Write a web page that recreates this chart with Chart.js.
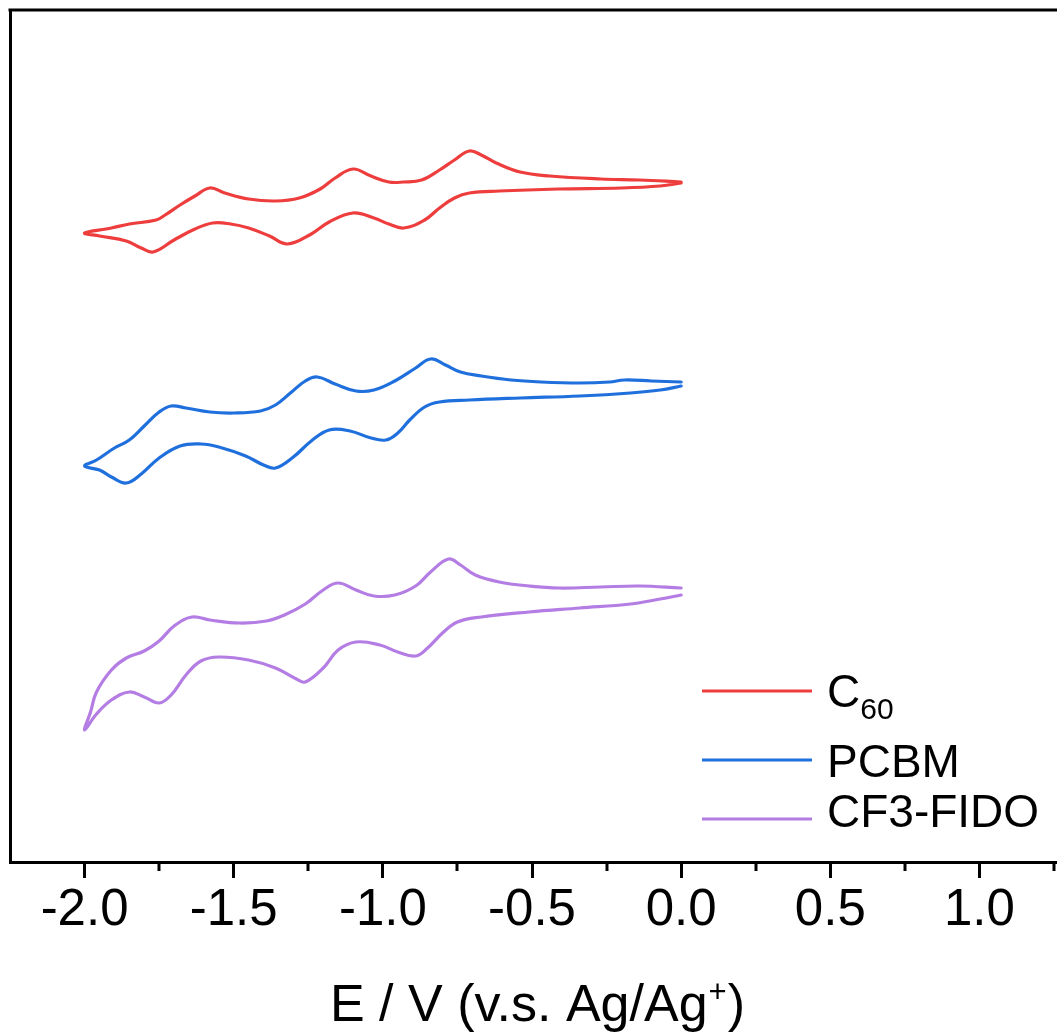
<!DOCTYPE html>
<html>
<head>
<meta charset="utf-8">
<script src="https://cdn.jsdelivr.net/npm/chart.js@4.4.1/dist/chart.umd.min.js"></script>
<style>
  html, body { margin: 0; padding: 0; background: #fff; overflow: hidden; }
  #wrap { width: 1057px; height: 1034px; }
</style>
</head>
<body>
<div id="wrap"><canvas id="cv" width="1057" height="1034"></canvas></div>
<script>
// Cyclic voltammograms: potential E (V vs Ag/Ag+) and current (arb. units, curves offset vertically).
// Each loop starts at 0 V, sweeps to -2.0 V (lower branch) and returns (upper branch).
const c60E = [0.00, -0.07, -0.20, -0.41, -0.61, -0.71, -0.76, -0.81, -0.86, -0.93, -0.98, -1.03, -1.10, -1.18, -1.24, -1.32, -1.38, -1.45, -1.51, -1.57, -1.63, -1.70, -1.77, -1.81, -1.86, -1.95, -2.00,
              -1.91, -1.85, -1.76, -1.73, -1.68, -1.63, -1.58, -1.53, -1.45, -1.36, -1.28, -1.21, -1.16, -1.10, -1.04, -0.98, -0.93, -0.87, -0.81, -0.76, -0.71, -0.67, -0.62, -0.54, -0.44, -0.27, -0.14, 0.00];
const c60I = [67.9, 67.6, 67.4, 67.3, 67.1, 66.9, 66.4, 65.4, 64.2, 63.4, 63.8, 64.4, 64.9, 64.0, 62.8, 61.8, 62.6, 63.4, 63.8, 63.9, 63.3, 62.2, 61.0, 61.4, 62.1, 62.6, 62.9,
              63.4, 63.8, 64.2, 64.7, 65.7, 66.6, 67.4, 66.9, 66.3, 66.1, 66.4, 67.3, 68.4, 69.3, 68.6, 68.0, 68.0, 68.2, 69.2, 70.2, 71.1, 70.7, 69.9, 69.0, 68.6, 68.3, 68.2, 68.0];

const pcbmE = [0.00, -0.07, -0.17, -0.34, -0.54, -0.71, -0.81, -0.86, -0.91, -0.95, -0.99, -1.04, -1.11, -1.18, -1.24, -1.30, -1.36, -1.40, -1.46, -1.55, -1.61, -1.68, -1.75, -1.81, -1.86, -1.91, -1.95, -2.00,
               -1.96, -1.90, -1.85, -1.80, -1.75, -1.71, -1.66, -1.58, -1.50, -1.41, -1.36, -1.31, -1.26, -1.22, -1.16, -1.09, -1.03, -0.96, -0.89, -0.84, -0.79, -0.74, -0.67, -0.57, -0.47, -0.34, -0.24, -0.19, -0.10, 0.00];
const pcbmI = [47.6, 47.2, 46.9, 46.6, 46.4, 46.2, 46.0, 45.5, 44.2, 42.9, 42.2, 42.4, 43.1, 43.2, 42.1, 40.5, 39.4, 39.7, 40.6, 41.5, 41.8, 41.6, 40.4, 38.8, 37.9, 38.5, 39.2, 39.6,
               40.2, 41.4, 42.2, 43.6, 45.0, 45.6, 45.4, 45.0, 44.9, 45.1, 45.7, 46.9, 48.1, 48.5, 47.8, 47.1, 47.2, 48.1, 49.4, 50.3, 49.7, 49.0, 48.6, 48.2, 48.0, 47.9, 48.0, 48.2, 48.1, 48.0];

const fidoE = [0.00, -0.07, -0.17, -0.34, -0.51, -0.67, -0.75, -0.80, -0.85, -0.89, -0.95, -1.01, -1.09, -1.15, -1.20, -1.26, -1.29, -1.36, -1.45, -1.55, -1.61, -1.66, -1.71, -1.75, -1.80, -1.85, -1.91, -1.96, -2.00,
               -1.98, -1.96, -1.91, -1.86, -1.80, -1.75, -1.70, -1.64, -1.58, -1.48, -1.39, -1.33, -1.26, -1.20, -1.15, -1.09, -1.03, -0.96, -0.89, -0.84, -0.78, -0.74, -0.69, -0.61, -0.51, -0.41, -0.27, -0.14, 0.00];
const fidoI = [26.7, 26.3, 25.8, 25.4, 25.0, 24.5, 24.0, 22.9, 21.4, 20.6, 21.0, 21.7, 22.0, 21.2, 19.4, 18.0, 18.3, 19.4, 20.2, 20.5, 20.1, 18.7, 16.7, 15.9, 16.5, 17.0, 16.2, 14.8, 13.2,
               15.0, 17.0, 19.2, 20.4, 21.1, 22.1, 23.6, 24.5, 24.2, 23.9, 24.1, 24.7, 25.8, 27.2, 27.9, 27.2, 26.6, 26.7, 27.6, 29.0, 30.3, 29.7, 28.7, 28.0, 27.6, 27.4, 27.5, 27.6, 27.4];

const seriesNames = ['C_60', 'PCBM', 'CF3-FIDO'];
const seriesColors = ['#EE3D3D', '#1F70DD', '#B47DE4'];

const xMajorTicks = [-2.0, -1.5, -1.0, -0.5, 0.0, 0.5, 1.0];
const xMinorTicks = [-1.75, -1.25, -0.75, -0.25, 0.25, 0.75, 1.25];
const xTitleParts = ['E / V (v.s. Ag/Ag', '+', ')'];

const FONT = '"Liberation Sans", Arial, Helvetica, sans-serif';

function toPoints(E, I) { return E.map((e, k) => ({ x: e, y: I[k] })); }

const series = [[c60E, c60I], [pcbmE, pcbmI], [fidoE, fidoI]];
const datasets = series.map((s, i) => ({
  label: seriesNames[i],
  data: toPoints(s[0], s[1]),
  showLine: true,
  borderColor: seriesColors[i],
  backgroundColor: seriesColors[i],
  borderWidth: 3.2,
  pointRadius: 0,
  tension: 0.4,
  borderJoinStyle: 'round',
  borderCapStyle: 'round',
  fill: false
}));

// draws "C_60"-style text with the part after '_' as a subscript; returns width
function drawRich(ctx, text, x, y, size, subSize, measureOnly) {
  const parts = text.split('_');
  let w = 0;
  ctx.font = size + 'px ' + FONT;
  if (!measureOnly) ctx.fillText(parts[0], x, y);
  w += ctx.measureText(parts[0]).width;
  if (parts.length > 1) {
    ctx.font = subSize + 'px ' + FONT;
    if (!measureOnly) ctx.fillText(parts[1], x + w, y + size * 0.26);
    w += ctx.measureText(parts[1]).width;
  }
  return w;
}

const framePlugin = {
  id: 'frameAndText',
  afterDraw(chart) {
    const { ctx, chartArea: ca, scales } = chart;
    const xs = scales.x;
    ctx.save();
    ctx.strokeStyle = '#000';
    ctx.lineWidth = 3;
    // top frame line
    ctx.beginPath();
    ctx.moveTo(ca.left - 1.5, ca.top);
    ctx.lineTo(ca.right, ca.top);
    ctx.stroke();
    // minor ticks on the bottom axis
    ctx.beginPath();
    xMinorTicks.forEach(v => {
      const px = Math.round(xs.getPixelForValue(v));
      ctx.moveTo(px, ca.bottom);
      ctx.lineTo(px, ca.bottom + 9);
    });
    ctx.stroke();

    // axis title with superscript
    ctx.fillStyle = '#000';
    ctx.textBaseline = 'alphabetic';
    ctx.textAlign = 'left';
    const big = 52, sup = 31;
    ctx.font = big + 'px ' + FONT;
    const w0 = ctx.measureText(xTitleParts[0]).width;
    const w2 = ctx.measureText(xTitleParts[2]).width;
    ctx.font = sup + 'px ' + FONT;
    const w1 = ctx.measureText(xTitleParts[1]).width;
    const total = w0 + w1 + w2;
    const cx = (ca.left + ca.right) / 2 + 3;
    const by = ca.bottom + 159;
    let tx = cx - total / 2;
    ctx.font = big + 'px ' + FONT;
    ctx.fillText(xTitleParts[0], tx, by);
    ctx.font = sup + 'px ' + FONT;
    ctx.fillText(xTitleParts[1], tx + w0 + 1, by - 19);
    ctx.font = big + 'px ' + FONT;
    ctx.fillText(xTitleParts[2], tx + w0 + w1 + 2, by);

    // legend
    const rows = [{ line: 691, base: 707 }, { line: 760, base: 777 }, { line: 819, base: 827 }];
    chart.data.datasets.forEach((ds, i) => {
      const r = rows[i];
      ctx.strokeStyle = ds.borderColor;
      ctx.lineWidth = 3.2;
      ctx.beginPath();
      ctx.moveTo(702, r.line);
      ctx.lineTo(812, r.line);
      ctx.stroke();
      ctx.fillStyle = '#000';
      drawRich(ctx, ds.label, 827, r.base, 46, 30, false);
    });
    ctx.restore();
  }
};

new Chart(document.getElementById('cv').getContext('2d'), {
  type: 'scatter',
  data: { datasets },
  options: {
    responsive: false,
    animation: false,
    devicePixelRatio: 1,
    layout: { padding: { left: 10, top: 10, right: 0, bottom: 0 } },
    plugins: { legend: { display: false }, tooltip: { enabled: false } },
    scales: {
      x: {
        type: 'linear',
        min: -2.25,
        max: 1.26,
        afterBuildTicks: s => { s.ticks = xMajorTicks.map(v => ({ value: v })); },
        afterFit: s => { s.height = 172; },
        ticks: {
          callback: v => Number(v).toFixed(1),
          color: '#000',
          font: { family: FONT, size: 51 },
          padding: 2,
          maxRotation: 0,
          autoSkip: false
        },
        grid: { drawOnChartArea: false, drawTicks: true, tickLength: 16, tickWidth: 3, tickColor: '#000' },
        border: { display: true, color: '#000', width: 3 }
      },
      y: {
        type: 'linear',
        min: 0,
        max: 85.2,
        afterFit: s => { s.width = 0; },
        ticks: { display: false },
        grid: { display: false },
        border: { display: true, color: '#000', width: 3 }
      }
    }
  },
  plugins: [framePlugin]
});
</script>
</body>
</html>
